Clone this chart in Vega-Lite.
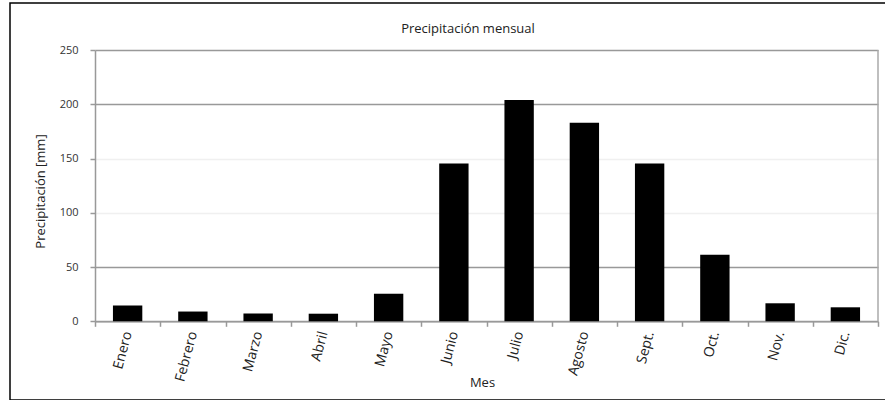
{
  "$schema": "https://vega.github.io/schema/vega-lite/v6.json",
  "autosize": {"type": "none"},
  "padding": {"left": 10, "top": 3, "right": 0, "bottom": 0},
  "width": 880,
  "height": 397,
  "background": "white",
  "title": {
    "text": "Precipitación mensual",
    "anchor": "middle",
    "frame": "group",
    "offset": 0,
    "dy": 39,
    "dx": 18,
    "baseline": "middle",
    "fontSize": 13,
    "font": "Open Sans",
    "fontWeight": "normal",
    "color": "#222"
  },
  "data": {
    "values": [
      {"mes": "Enero", "precip": 14.5},
      {"mes": "Febrero", "precip": 9},
      {"mes": "Marzo", "precip": 7.2},
      {"mes": "Abril", "precip": 7},
      {"mes": "Mayo", "precip": 25.4},
      {"mes": "Junio", "precip": 145.5},
      {"mes": "Julio", "precip": 204},
      {"mes": "Agosto", "precip": 183},
      {"mes": "Sept.", "precip": 145.5},
      {"mes": "Oct.", "precip": 61.3},
      {"mes": "Nov.", "precip": 16.6},
      {"mes": "Dic.", "precip": 12.9}
    ]
  },
  "layer": [
    {
      "mark": {"type": "bar", "color": "black", "width": {"band": 0.45}},
      "encoding": {
        "x": {
          "field": "mes",
          "type": "nominal",
          "sort": null,
          "scale": {"range": [85, 868], "paddingInner": 0, "paddingOuter": 0},
          "axis": {
            "title": "Mes",
            "titleFont": "Open Sans",
            "titleFontSize": 13,
            "titleFontWeight": "normal",
            "titleColor": "#222",
            "titleX": 472,
            "titleY": 61,
            "titleBaseline": "middle",
            "offset": -78.7,
            "labelAngle": -75,
            "labelFont": "Open Sans",
            "labelFontSize": 14,
            "labelColor": "#222",
            "labelPadding": 5,
            "tickBand": "extent",
            "tickSize": 5,
            "tickColor": "#999",
            "tickWidth": 1.5,
            "domainColor": "#999",
            "domainWidth": 1.5,
            "grid": false
          }
        },
        "y": {
          "field": "precip",
          "type": "quantitative",
          "scale": {"domain": [0, 250], "range": [318.3, 47], "nice": false},
          "axis": {
            "title": "Precipitación [mm]",
            "titleFont": "Open Sans",
            "titleFontSize": 13,
            "titleFontWeight": "normal",
            "titleColor": "#222",
            "titleX": -55,
            "titleY": 188,
            "titleAngle": -90,
            "titleBaseline": "middle",
            "offset": -85,
            "values": [0, 50, 100, 150, 200, 250],
            "labelFont": "Open Sans",
            "labelFontSize": 11,
            "labelColor": "#333",
            "labelPadding": 12,
            "tickSize": 5,
            "tickColor": "#999",
            "tickWidth": 1.5,
            "domainColor": "#999",
            "domainWidth": 1.5,
            "grid": true,
            "gridWidth": 1.5,
            "gridColor": {"condition": {"test": "datum.value === 100 || datum.value === 150", "value": "#f0f0f0"}, "value": "#999"}
          }
        }
      }
    },
    {
      "transform": [{"filter": "datum.mes === 'Dic.'"}],
      "mark": {"type": "rule", "color": "#aaa", "strokeWidth": 1.5},
      "encoding": {
        "x": {"field": "mes", "type": "nominal", "sort": null, "bandPosition": 1, "axis": null},
        "y": {"datum": 0, "type": "quantitative", "axis": null},
        "y2": {"datum": 250}
      }
    }
  ],
  "resolve": {"axis": {"x": "independent", "y": "independent"}},
  "config": {"view": {"stroke": "black", "strokeWidth": 1.5}}
}
